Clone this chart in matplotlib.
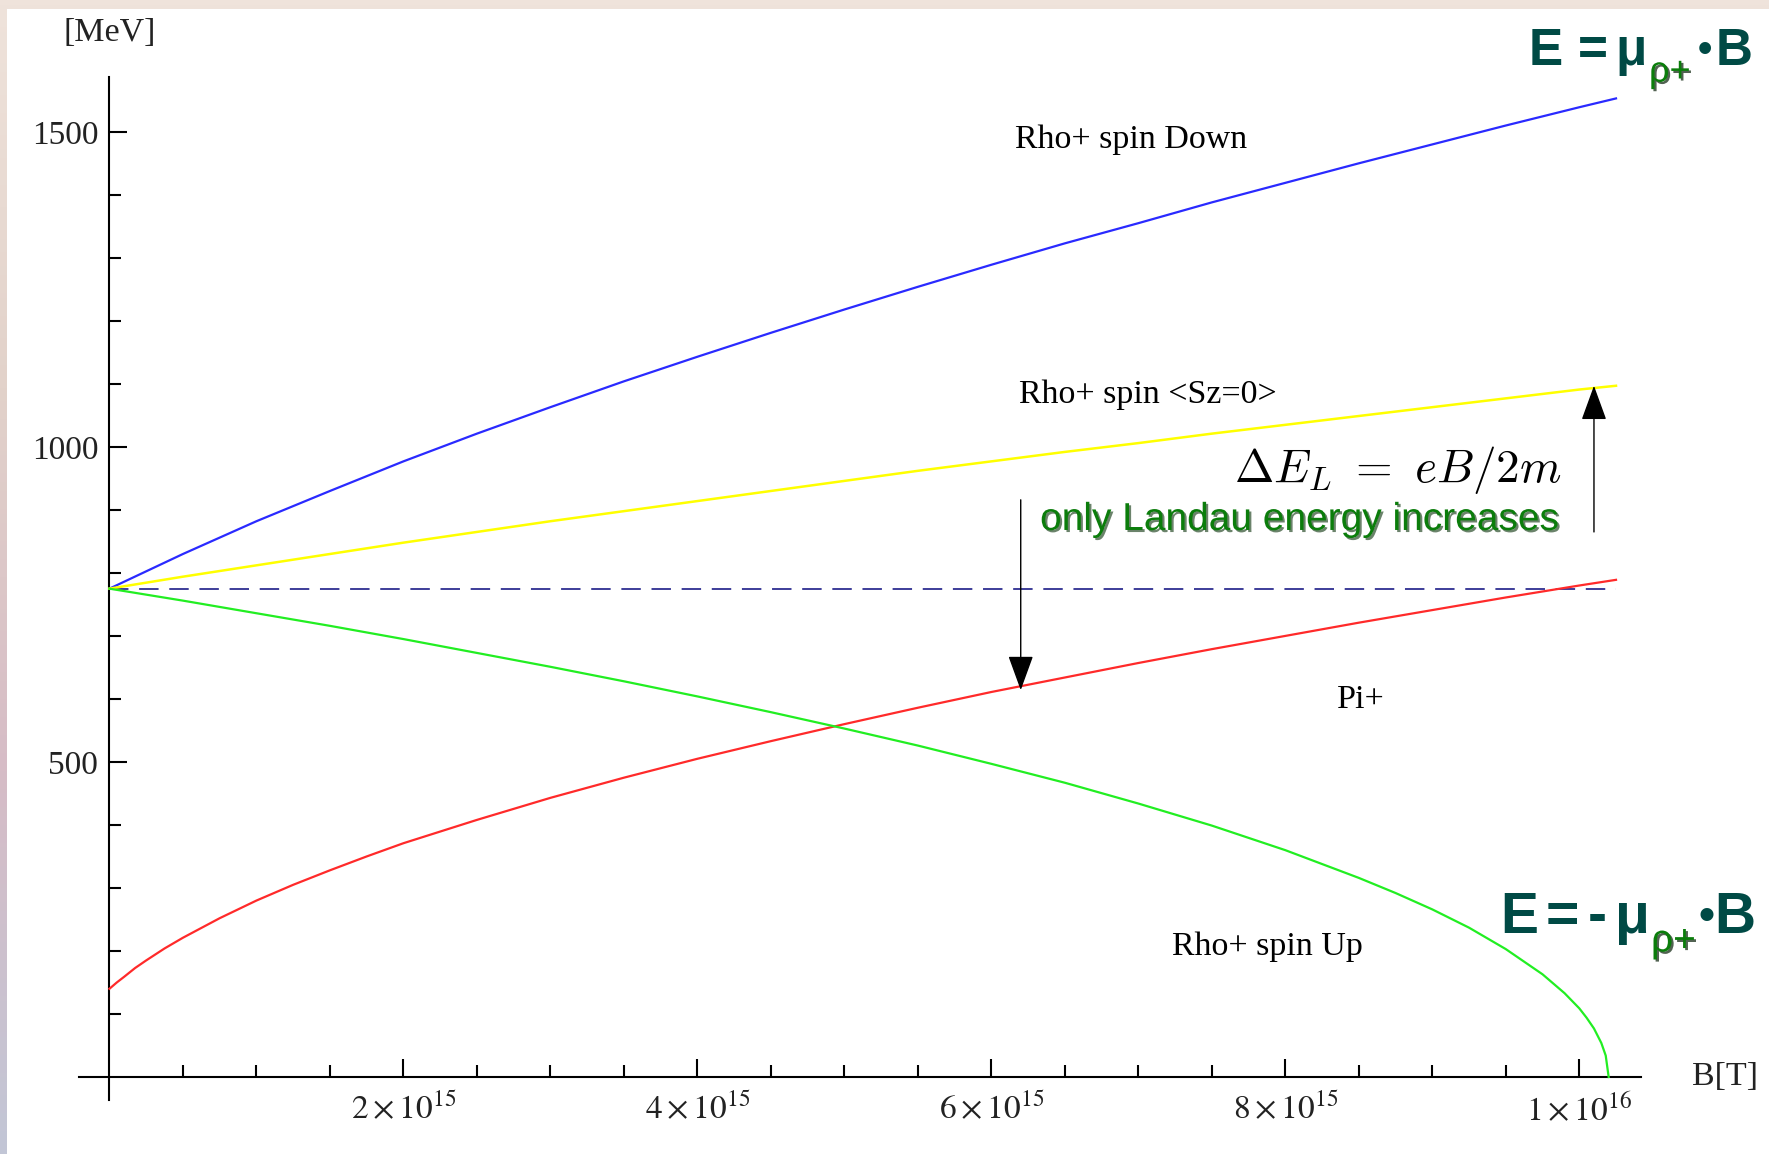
import matplotlib
matplotlib.use("Agg")
import matplotlib.pyplot as plt
import matplotlib.patheffects as pe
from matplotlib.colors import LinearSegmentedColormap
from matplotlib.patches import Rectangle
from matplotlib.ticker import FixedLocator, FixedFormatter
import numpy as np

plt.rcParams.update({
    'font.family': ['Liberation Serif', 'DejaVu Serif'],
    'mathtext.fontset': 'stix',
    'font.size': 24,
})

W, H = 1769, 1154

# ── Data (B in units of 1e15 T, E in MeV) ─────────────────────────
B_MAIN = [0, 0.5, 1, 1.5, 2, 2.5, 3, 3.5, 4, 4.5, 5, 5.5, 6, 6.5, 7, 7.5,
          8, 8.5, 9, 9.5, 10, 10.25]
E_SPIN_DOWN = [775, 830, 882, 930, 977, 1021, 1063, 1104, 1143, 1181, 1218,
               1254, 1289, 1323, 1355, 1388, 1419, 1450, 1480, 1510, 1539, 1553]
E_SZ0 = [775, 794, 812, 830, 848, 865, 882, 898, 914, 930, 946, 962, 977,
         992, 1006, 1021, 1035, 1049, 1063, 1077, 1091, 1097]

B_PI = [0, 0.05, 0.1, 0.175, 0.25, 0.375, 0.5, 0.75, 1, 1.25, 1.5, 1.75, 2,
        2.5, 3, 3.5, 4, 4.5, 5, 5.5, 6, 6.5, 7, 7.5, 8, 8.5, 9, 9.5, 10, 10.25]
E_PI = [140, 150, 159, 173, 185, 204, 221, 252, 280, 305, 328, 350, 371,
        408, 443, 475, 505, 533, 560, 586, 611, 634, 657, 679, 700, 721, 741,
        761, 780, 789]

B_UP = [0, 0.5, 1, 1.5, 2, 2.5, 3, 3.5, 4, 4.5, 5, 5.5, 6, 6.5, 7, 7.5, 8,
        8.5, 8.75, 9, 9.25, 9.5, 9.75, 9.9, 10, 10.05, 10.1, 10.15, 10.18, 10.2]
E_SPIN_UP = [775, 756, 736, 716, 695, 673, 651, 628, 604, 579, 553, 526, 497,
             467, 434, 399, 360, 316, 292, 266, 237, 203, 163, 133, 109, 94,
             77, 54, 34, 0]

B_REST = [0, 10.25]
E_REST = [775, 775]

X_TICKS = [2, 4, 6, 8, 10]
X_LABELS = [r"$2\times10^{15}$", r"$4\times10^{15}$", r"$6\times10^{15}$",
            r"$8\times10^{15}$", r"$1\times10^{16}$"]
Y_TICKS = [500, 1000, 1500]
Y_LABELS = ["500", "1000", "1500"]

TEAL = "#004a45"
DGREEN = "#0b7d0b"


def fx(px):
    return px / W


def fy(py):
    return 1 - py / H


fig = plt.figure(figsize=(W / 100, H / 100), dpi=100)

# ── Slide-like background: thin gradient strip top and left ─────
ax_bg = fig.add_axes([0, 0, 1, 1], zorder=-5)
ax_bg.set_axis_off()
cmap = LinearSegmentedColormap.from_list(
    "bg", ["#efe3db", "#e2d2ca", "#d6bcc6", "#c2c6d6"])
ax_bg.imshow(np.linspace(1, 0, 256).reshape(-1, 1), cmap=cmap, aspect="auto",
             extent=[0, 1, 0, 1], origin="lower")
ax_bg.add_patch(Rectangle((fx(7), 0), 1, fy(9), color="white",
                          transform=ax_bg.transAxes, lw=0))
ax_bg.set_xlim(0, 1)
ax_bg.set_ylim(0, 1)

# ── Main axes ───────────────────────────────────────────────────
ax = fig.add_axes([fx(79), fy(1100), fx(1641) - fx(79), fy(77) - fy(1100)])
ax.patch.set_alpha(0)
ax.set_xlim(-0.207, 10.42)
ax.set_ylim(-36.5, 1587)

for s in ("top", "right"):
    ax.spines[s].set_visible(False)
for s in ("left", "bottom"):
    ax.spines[s].set_position(("data", 0))
    ax.spines[s].set_linewidth(1.5)

ax.xaxis.set_major_locator(FixedLocator(X_TICKS))
ax.xaxis.set_major_formatter(FixedFormatter(X_LABELS))
ax.xaxis.set_minor_locator(FixedLocator(np.arange(0.5, 10.01, 0.5)))
ax.yaxis.set_major_locator(FixedLocator(Y_TICKS))
ax.yaxis.set_major_formatter(FixedFormatter(Y_LABELS))
ax.yaxis.set_minor_locator(FixedLocator(np.arange(100, 1501, 100)))
ax.tick_params(which="both", direction="in", width=1.5, colors="black",
               labelsize=24, labelcolor="#222222")
ax.tick_params(which="major", length=13)
ax.tick_params(which="minor", length=8.5)
ax.tick_params(axis="x", pad=11)
ax.tick_params(axis="y", pad=8)

# curves
ax.plot(B_MAIN, E_SPIN_DOWN, color="#2a2aff", lw=1.6, zorder=3)
ax.plot(B_MAIN, E_SZ0, color="#ffff00", lw=1.8, zorder=3)
ax.plot(B_PI, E_PI, color="#ff2a2a", lw=1.6, zorder=3)
ax.plot(B_UP, E_SPIN_UP, color="#22ee22", lw=1.6, zorder=3)
ax.plot(B_REST, E_REST, color="#3d3d99", lw=1.4, dashes=(10, 5.5), zorder=2)

# curve labels
ax.text(6.16, 1475, "Rho+ spin Down", fontsize=24.5, va="baseline")
ax.text(6.19, 1070, "Rho+ spin <Sz=0>", fontsize=24.5, va="baseline")
ax.text(8.35, 586, "Pi+", fontsize=24.5, va="baseline")
ax.text(7.23, 194, "Rho+ spin Up", fontsize=24.5, va="baseline")

# Landau annotation
ax.text(9.88, 963, r"$\Delta E_L\ =\ eB/2m$", fontsize=34, ha="right",
        va="center", math_fontfamily="cm")
t = ax.text(9.86, 884, "only Landau energy increases", fontsize=28,
            ha="right", va="center", color=DGREEN,
            family=["Liberation Sans Narrow", "Liberation Sans"])
t.set_path_effects([pe.withSimplePatchShadow(offset=(1.5, -1.5),
                                             shadow_rgbFace="#083008",
                                             alpha=0.6)])

arrow = dict(arrowstyle="-|>,head_length=0.55,head_width=0.2",
             mutation_scale=40, lw=1.0, color="black",
             shrinkA=0, shrinkB=0)
ax.annotate("", xy=(6.2, 614), xytext=(6.2, 916), arrowprops=arrow)
ax.annotate("", xy=(10.1, 1097), xytext=(10.1, 865), arrowprops=arrow)

# axis labels
fig.text(fx(110), fy(33), "[MeV]", fontsize=24.5, ha="center", va="center",
         color="#222222")
fig.text(fx(1692), fy(1077), "B[T]", fontsize=24.5, ha="left", va="center",
         color="#222222")

# ── Formula boxes (top right and lower right) ───────────────────
shadow = [pe.withSimplePatchShadow(offset=(1.5, -1.5), shadow_rgbFace="#082008",
                                   alpha=0.7)]


def formula(base, size, sub_size, pieces, x_sub, x_dot):
    kw = dict(fontsize=size, color=TEAL, weight="bold", va="baseline",
              ha="left", family=["Liberation Sans", "DejaVu Sans"])
    for x, s in pieces:
        fig.text(fx(x), fy(base), s, **kw)
    kw.update(fontsize=size * 0.8, ha="center")
    fig.text(fx(x_dot), fy(base - 0.08 * size), "\u2022", **kw)
    sub = fig.text(fx(x_sub), fy(base + 0.45 * size), "\u03c1+",
                   fontsize=sub_size, color=DGREEN, va="baseline", ha="left",
                   family=["Liberation Sans", "DejaVu Sans"])
    sub.set_path_effects(shadow)


formula(65, 37, 26,
        [(1529, "E"), (1578, "="), (1615, "\u03bc"), (1716, "B")], 1649, 1705)
formula(933, 41, 28,
        [(1500, "E"), (1546, "="), (1588, "-"), (1615, "\u03bc"),
         (1714, "B")], 1651, 1706)

fig.savefig("out.png", dpi=100)
